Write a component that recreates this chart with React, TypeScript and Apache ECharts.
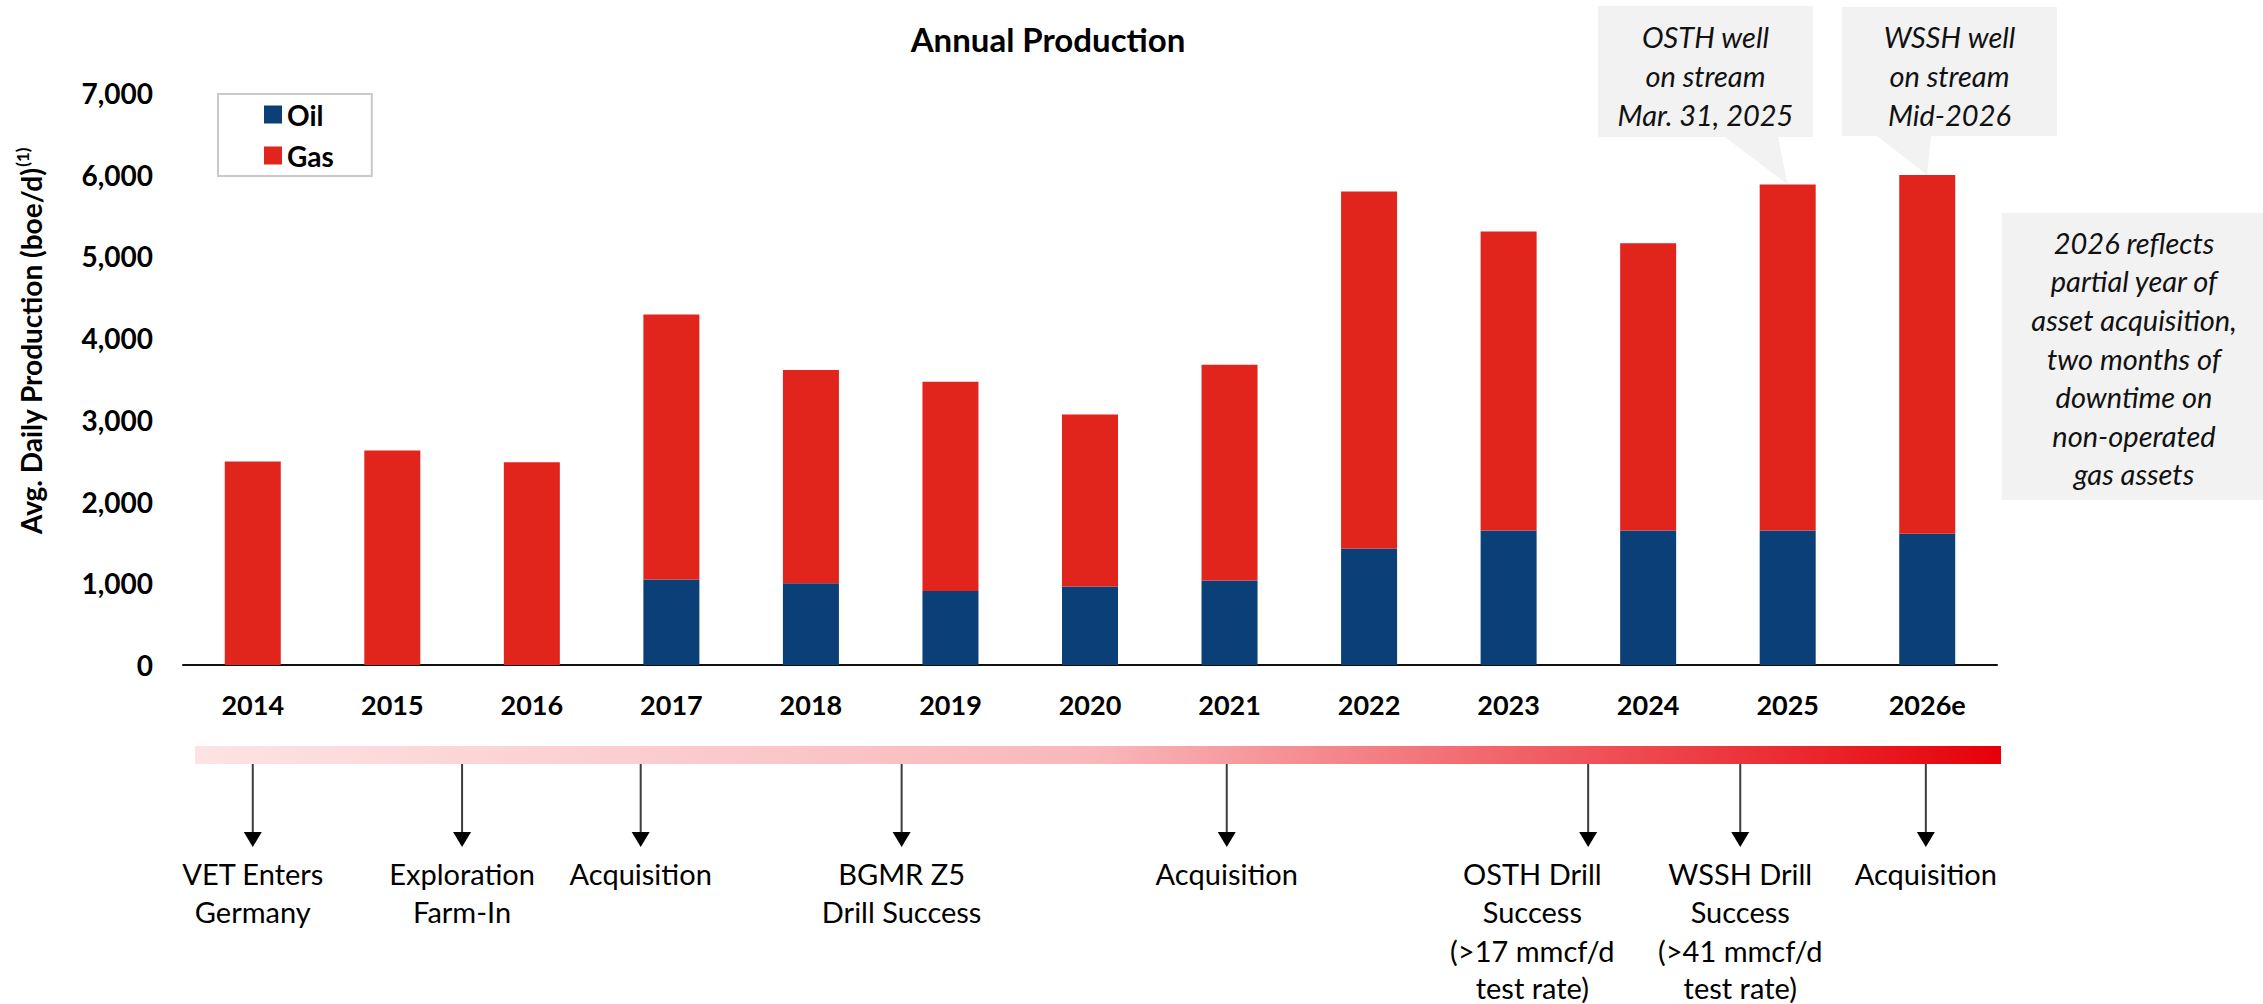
import React, { useEffect, useRef } from "react";
import * as echarts from "echarts";

// ---- data ----
const years = ["2014", "2015", "2016", "2017", "2018", "2019", "2020", "2021", "2022", "2023", "2024", "2025", "2026e"];
const oil = [0, 0, 0, 1045, 1000, 905, 960, 1035, 1425, 1645, 1645, 1645, 1605];
const gas = [2490, 2625, 2480, 3245, 2610, 2560, 2105, 2640, 4370, 3660, 3515, 4235, 4390];
const yMin = 0;
const yMax = 7000;
const yStep = 1000;

const calloutYears = ["2025", "2026e"];
const calloutTexts = [
  ["OSTH well", "on stream", "Mar. 31, 2025"],
  ["WSSH well", "on stream", "Mid-2026"],
];
const noteLines = [
  "2026 reflects",
  "partial year of",
  "asset acquisition,",
  "two months of",
  "downtime on",
  "non-operated",
  "gas assets",
];

// timeline milestones, positioned in year units from 2014
const eventLabels = [
  ["VET Enters", "Germany"],
  ["Exploration", "Farm-In"],
  ["Acquisition"],
  ["BGMR Z5", "Drill Success"],
  ["Acquisition"],
  ["OSTH Drill", "Success", "(>17 mmcf/d", "test rate)"],
  ["WSSH Drill", "Success", "(>41 mmcf/d", "test rate)"],
  ["Acquisition"],
];
const eventAt = [0, 1.5, 2.78, 4.65, 6.98, 9.57, 10.66, 11.99];

// ---- layout ----
const W = 2263;
const H = 1004;
const FONT = 'Lato, "Open Sans", sans-serif';
const OIL_COLOR = "#0a3f77";
const GAS_COLOR = "#e1251d";
const BOX_FILL = "#f2f2f2";
const calloutBoxes = [
  { x0: 1598, y0: 6, x1: 1813, y1: 137, tl: 1725, tr: 1778 },
  { x0: 1842, y0: 7, x1: 2057, y1: 136, tl: 1877, tr: 1931 },
];
const eventLabelShift = [0, 0, 0, 0, 0, -0.4, 0, 0];
const eventLineY = [873, 911.5, 950, 987.5];

export default function App() {
  const ref = useRef<HTMLDivElement>(null);

  useEffect(() => {
    if (!ref.current) return;
    const chart = echarts.init(ref.current, null, { renderer: "svg" });

    chart.setOption({
      animation: false,
      backgroundColor: "#ffffff",
      textStyle: { fontFamily: FONT },
      grid: { left: 183, right: 266, top: 93, bottom: 339, containLabel: false },
      legend: {
        orient: "vertical",
        left: 218,
        top: 94,
        padding: [0, 38, 0, 46],
        itemGap: 0,
        itemWidth: 18,
        itemHeight: 18,
        borderColor: "#c9c9c9",
        borderWidth: 2,
        icon: "rect",
        data: ["Oil", "Gas"],
        textStyle: { fontFamily: FONT, fontSize: 28, fontWeight: "bold", color: "#000", lineHeight: 41 },
      },
      xAxis: {
        type: "category",
        data: years,
        axisLine: { show: true, lineStyle: { color: "#111", width: 2 } },
        axisTick: { show: false },
        axisLabel: { fontFamily: FONT, fontSize: 27, fontWeight: "bold", color: "#000", margin: 26 },
        splitLine: { show: false },
      },
      yAxis: {
        type: "value",
        min: yMin,
        max: yMax,
        interval: yStep,
        axisLine: { show: false },
        axisTick: { show: false },
        splitLine: { show: false },
        axisLabel: {
          fontFamily: FONT,
          fontSize: 28,
          fontWeight: "bold",
          color: "#000",
          margin: 30,
          formatter: (v: number) => v.toLocaleString("en-US"),
        },
      },
      series: [
        {
          name: "Oil",
          type: "bar",
          stack: "boe",
          barWidth: 56,
          data: oil,
          itemStyle: { color: OIL_COLOR },
        },
        {
          name: "Gas",
          type: "bar",
          stack: "boe",
          barWidth: 56,
          data: gas,
          itemStyle: { color: GAS_COLOR },
        },
      ],
    });

    const xAt = (t: number) => {
      const p0 = chart.convertToPixel({ xAxisIndex: 0 }, years[0]) as number;
      const p1 = chart.convertToPixel({ xAxisIndex: 0 }, years[1]) as number;
      return p0 + t * (p1 - p0);
    };

    const elements: any[] = [];

    // chart title
    elements.push({
      type: "text",
      x: 1048,
      y: 39,
      style: {
        text: "Annual Production",
        fontFamily: FONT,
        fontSize: 33,
        fontWeight: "bold",
        fill: "#000",
        align: "center",
        verticalAlign: "middle",
      },
    });

    // vertical axis title with superscript note marker
    elements.push({
      type: "text",
      x: 31,
      y: 341,
      rotation: Math.PI / 2,
      style: {
        text: "{a|Avg. Daily Production (boe/d)}{s|(1)}",
        fontFamily: FONT,
        align: "center",
        verticalAlign: "middle",
        rich: {
          a: { fontFamily: FONT, fontSize: 28, fontWeight: "bold", fill: "#000", lineHeight: 34 },
          s: { fontFamily: FONT, fontSize: 17, fontWeight: "bold", fill: "#000", lineHeight: 34, verticalAlign: "top", padding: [0, 0, 12, 1] },
        },
      },
    });

    // callouts pointing at the top of the stacked bars
    calloutYears.forEach((yr, i) => {
      const idx = years.indexOf(yr);
      const tip = chart.convertToPixel({ gridIndex: 0 }, [yr, oil[idx] + gas[idx]]) as number[];
      const b = calloutBoxes[i];
      elements.push({
        type: "polygon",
        shape: {
          points: [
            [b.x0, b.y0],
            [b.x1, b.y0],
            [b.x1, b.y1],
            [b.tr, b.y1],
            [tip[0], tip[1]],
            [b.tl, b.y1],
            [b.x0, b.y1],
          ],
        },
        style: { fill: BOX_FILL },
      });
      elements.push({
        type: "text",
        x: (b.x0 + b.x1) / 2,
        y: (b.y0 + b.y1) / 2 + 4,
        style: {
          text: calloutTexts[i].join("\n"),
          fontFamily: FONT,
          fontSize: 29,
          fontStyle: "italic",
          fill: "#111",
          lineHeight: 39,
          align: "center",
          verticalAlign: "middle",
        },
      });
    });

    // side note
    elements.push({
      type: "rect",
      shape: { x: 2002, y: 213, width: W - 2002, height: 287 },
      style: { fill: BOX_FILL },
    });
    elements.push({
      type: "text",
      x: 2134,
      y: 358,
      style: {
        text: noteLines.join("\n"),
        fontFamily: FONT,
        fontSize: 29,
        fontStyle: "italic",
        fill: "#111",
        lineHeight: 38.6,
        align: "center",
        verticalAlign: "middle",
      },
    });

    // timeline band
    elements.push({
      type: "rect",
      shape: { x: 195, y: 746, width: 1806, height: 18 },
      style: {
        fill: new echarts.graphic.LinearGradient(0, 0, 1, 0, [
          { offset: 0, color: "#fde3e3" },
          { offset: 0.5, color: "#f9b7ba" },
          { offset: 1, color: "#e60008" },
        ]),
      },
    });

    // milestone arrows and labels
    eventAt.forEach((t, i) => {
      const x = xAt(t);
      elements.push({
        type: "line",
        shape: { x1: x, y1: 764, x2: x, y2: 833 },
        style: { stroke: "#3c3c3c", lineWidth: 2 },
      });
      elements.push({
        type: "polygon",
        shape: { points: [[x - 9, 832], [x + 9, 832], [x, 847]] },
        style: { fill: "#000" },
      });
      const lx = xAt(t + eventLabelShift[i]);
      eventLabels[i].forEach((line, j) => {
        elements.push({
          type: "text",
          x: lx,
          y: eventLineY[j],
          style: {
            text: line,
            fontFamily: FONT,
            fontSize: 29,
            fill: "#000",
            lineHeight: 30,
            align: "center",
            verticalAlign: "middle",
          },
        });
      });
    });

    chart.setOption({ graphic: { elements } });

    return () => chart.dispose();
  }, []);

  return (
    <div
      ref={ref}
      style={{ position: "fixed", left: 0, top: 0, width: W, height: H, background: "#fff" }}
    />
  );
}
